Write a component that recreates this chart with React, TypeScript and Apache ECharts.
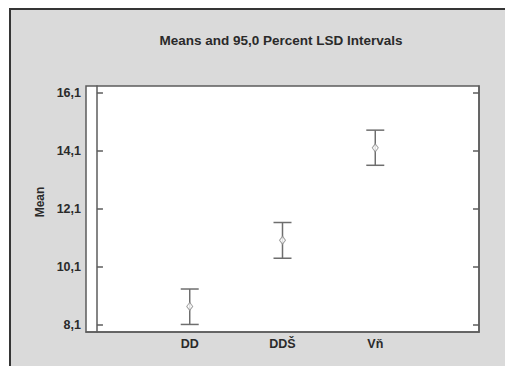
import React, { useEffect, useRef } from "react";
import * as echarts from "echarts";

const categories = ["DD", "DDŠ", "Vň"];
const means = [8.74, 11.02, 14.2];
const lower = [8.12, 10.4, 13.6];
const upper = [9.34, 11.63, 14.81];
const yTicks = [8.1, 10.1, 12.1, 14.1, 16.1];

const FONT = "'Liberation Sans', Arial, sans-serif";
const AXIS = "#5c5c5c";
const BAR = "#6e6e6e";
const TEXT = "#2a2a2a";

export default function App() {
  const ref = useRef<HTMLDivElement>(null);
  useEffect(() => {
    if (!ref.current) return;
    const chart = echarts.init(ref.current, undefined, { renderer: "svg" });
    const pos = categories.map((_, i) => i + 1);
    const fmtY = (v: number) => v.toFixed(1).replace(".", ",");
    const yCommon = {
      type: "value",
      min: 7.86,
      max: 16.33,
      splitLine: { show: false },
      axisLine: { show: true, lineStyle: { color: AXIS, width: 1.5 } },
      axisTick: {
        show: true,
        inside: true,
        length: 6,
        customValues: yTicks,
        lineStyle: { color: AXIS, width: 1.5 },
      },
    };
    chart.setOption({
      animation: false,
      backgroundColor: "transparent",
      graphic: [
        {
          type: "text",
          x: 281,
          y: 40,
          style: {
            text: "Means and 95,0 Percent LSD Intervals",
            font: `bold 13.5px ${FONT}`,
            fill: TEXT,
            align: "center",
            verticalAlign: "middle",
          },
        },
        {
          type: "text",
          x: 40,
          y: 202,
          rotation: Math.PI / 2,
          style: {
            text: "Mean",
            font: `bold 12px ${FONT}`,
            fill: TEXT,
            align: "center",
            verticalAlign: "middle",
          },
        },
      ],
      grid: {
        left: 86,
        top: 86,
        width: 393,
        height: 246,
        show: true,
        backgroundColor: "#ffffff",
        borderColor: AXIS,
        borderWidth: 1.5,
      },
      xAxis: {
        type: "value",
        min: -0.118,
        max: 4.118,
        splitLine: { show: false },
        axisTick: { show: false },
        axisLine: { show: true, lineStyle: { color: AXIS, width: 1.5 } },
        axisLabel: {
          customValues: pos,
          formatter: (v: number) => categories[Math.round(v) - 1] ?? "",
          color: TEXT,
          fontWeight: "bold",
          fontSize: 12.5,
          fontFamily: FONT,
          margin: 5,
        },
      },
      yAxis: [
        {
          ...yCommon,
          position: "left",
          axisLabel: {
            customValues: yTicks,
            formatter: fmtY,
            color: TEXT,
            fontWeight: "bold",
            fontSize: 12.5,
            fontFamily: FONT,
            margin: 5,
          },
        },
        {
          ...yCommon,
          position: "right",
          axisLabel: { show: false },
        },
      ],
      series: [
        {
          type: "custom",
          data: pos.map((x, i) => [x, lower[i], upper[i]]),
          renderItem: (_params: any, api: any) => {
            const x = api.value(0);
            const lo = api.coord([x, api.value(1)]);
            const hi = api.coord([x, api.value(2)]);
            const w = 9;
            const style = { stroke: BAR, lineWidth: 1.5 };
            return {
              type: "group",
              children: [
                { type: "line", shape: { x1: hi[0], y1: hi[1], x2: lo[0], y2: lo[1] }, style },
                { type: "line", shape: { x1: hi[0] - w, y1: hi[1], x2: hi[0] + w, y2: hi[1] }, style },
                { type: "line", shape: { x1: lo[0] - w, y1: lo[1], x2: lo[0] + w, y2: lo[1] }, style },
              ],
            };
          },
          z: 2,
        },
        {
          type: "scatter",
          data: pos.map((x, i) => [x, means[i]]),
          symbol: "diamond",
          symbolSize: [6, 8],
          itemStyle: { color: "#ffffff", borderColor: "#8a8a8a", borderWidth: 1 },
          z: 3,
        },
      ],
    });
    return () => chart.dispose();
  }, []);
  return (
    <div
      style={{
        position: "fixed",
        left: 0,
        top: 0,
        right: 0,
        bottom: 0,
        background: "#ffffff",
        overflow: "hidden",
      }}
    >
      <div
        style={{
          position: "absolute",
          left: 9,
          top: 7.5,
          width: 1000,
          height: 1000,
          background: "#dadada",
          borderLeft: "2px solid #353535",
          borderTop: "2px solid #353535",
        }}
      />
      <div
        ref={ref}
        style={{ position: "absolute", left: 0, top: 0, width: 505, height: 366 }}
      />
    </div>
  );
}
